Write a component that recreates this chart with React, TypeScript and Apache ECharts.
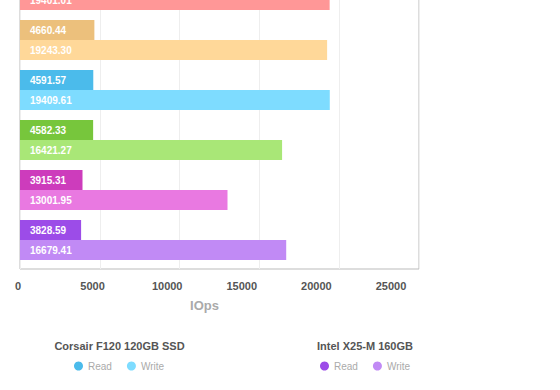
import React, { useEffect, useRef } from "react";
import * as echarts from "echarts";

const products = ["Drive 1", "Drive 2", "Corsair F120 120GB SSD", "Drive 4", "Drive 5", "Intel X25-M 160GB"];
const readValues: (number | null)[] = [null, 4660.44, 4591.57, 4582.33, 3915.31, 3828.59];
const writeValues: number[] = [19401.01, 19243.3, 19409.61, 16421.27, 13001.95, 16679.41];
const readColors = ["#f06b6b", "#ecc07c", "#4bbbeb", "#77c63c", "#cd3cbc", "#9c4ce8"];
const writeColors = ["#ff9797", "#ffd899", "#7edcff", "#a9e777", "#e979e1", "#c18af5"];
const xTicks = { min: 0, max: 25000, interval: 5000 };
const axisName = "IOps";
const legendGroups = [
  { product: "Corsair F120 120GB SSD", x: 119.5, legendLeft: 74 },
  { product: "Intel X25-M 160GB", x: 365, legendLeft: 320 },
];

const OFF = 50;

export default function App() {
  const ref = useRef<HTMLDivElement>(null);
  useEffect(() => {
    if (!ref.current) return;
    const chart = echarts.init(ref.current, undefined, { renderer: "svg" });
    const labelCfg = {
      show: true,
      position: "insideLeft",
      distance: 10,
      color: "#fff",
      fontSize: 10,
      fontWeight: "bold",
      fontFamily: "Liberation Sans, Arial, sans-serif",
      formatter: (p: any) => Number(p.value).toFixed(2),
    };
    const series: any[] = [];
    products.forEach((name, i) => {
      series.push({
        name: name + " Read",
        type: "bar",
        stack: "read",
        xAxisIndex: 0,
        yAxisIndex: 0,
        barWidth: 20,
        barGap: "0%",
        data: products.map((_, j) => (j === i && readValues[i] !== null ? readValues[i] : "-")),
        itemStyle: { color: readColors[i] },
        label: labelCfg,
      });
      series.push({
        name: name + " Write",
        type: "bar",
        stack: "write",
        xAxisIndex: 0,
        yAxisIndex: 0,
        barWidth: 20,
        barGap: "0%",
        data: products.map((_, j) => (j === i ? writeValues[i] : "-")),
        itemStyle: { color: writeColors[i] },
        label: labelCfg,
      });
    });
    const hiddenAxis = {
      axisLine: { show: false },
      axisTick: { show: false },
      axisLabel: { show: false },
      splitLine: { show: false },
    };
    chart.setOption({
      animation: false,
      textStyle: { fontFamily: "Liberation Sans, Arial, sans-serif" },
      grid: [
        { left: 20, right: 141, top: 15, bottom: 440 - (265 + OFF) },
        {
          left: 20,
          right: 141,
          top: 15,
          bottom: 440 - (269 + OFF),
          show: true,
          borderColor: "#bbb",
          borderWidth: 1,
          backgroundColor: "transparent",
        },
        { left: 18, width: 373, top: 15, bottom: 440 - (269 + OFF) },
      ],
      xAxis: [
        { type: "value", gridIndex: 0, ...xTicks, ...hiddenAxis },
        {
          type: "value",
          gridIndex: 1,
          ...xTicks,
          ...hiddenAxis,
          splitLine: { show: true, lineStyle: { color: "#eee", width: 1 } },
        },
        {
          type: "value",
          gridIndex: 2,
          ...xTicks,
          ...hiddenAxis,
          axisLabel: {
            show: true,
            color: "#555",
            fontSize: 11,
            fontWeight: "bold",
            margin: 11,
            formatter: (v: number) => String(v),
          },
          name: axisName,
          nameLocation: "middle",
          nameGap: 30,
          nameTextStyle: { color: "#aaa", fontSize: 13, fontWeight: "bold" },
        },
      ],
      yAxis: [
        { type: "category", gridIndex: 0, data: products, inverse: true, ...hiddenAxis },
        { type: "value", gridIndex: 1, ...hiddenAxis },
        { type: "value", gridIndex: 2, ...hiddenAxis },
      ],
      legend: legendGroups.map((g) => ({
        data: [g.product + " Read", g.product + " Write"],
        left: g.legendLeft,
        top: 361 + OFF,
        icon: "circle",
        itemWidth: 9,
        itemHeight: 9,
        itemGap: 15,
        padding: 0,
        textStyle: { color: "#aaa", fontSize: 10 },
        formatter: (n: string) => (n.endsWith("Read") ? "Read" : "Write"),
      })),
      graphic: legendGroups.map((g) => ({
        type: "text",
        x: g.x,
        y: 346 + OFF,
        style: {
          text: g.product,
          textAlign: "center",
          textVerticalAlign: "middle",
          fill: "#555",
          fontSize: 11,
          fontWeight: "bold",
          fontFamily: "Liberation Sans, Arial, sans-serif",
        },
      })),
      series,
    });
    return () => chart.dispose();
  }, []);
  return (
    <div
      ref={ref}
      style={{ position: "absolute", left: 0, top: -OFF, width: 560, height: 440 }}
    />
  );
}
